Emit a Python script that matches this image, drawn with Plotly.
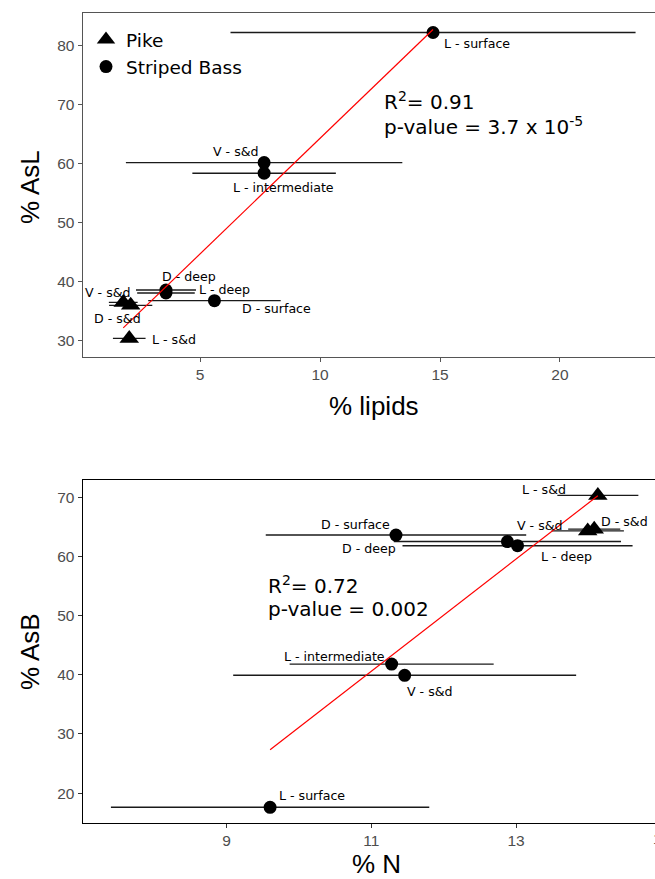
import numpy as np
import plotly.graph_objects as go

# ---------------- data: top panel (% lipids vs % AsL) ----------------
top_labels = ["L - surface", "V - s&d", "L - intermediate", "D - deep", "L - deep",
              "D - surface", "V - s&d", "D - s&d", "L - s&d"]
top_species = ["Striped Bass"] * 6 + ["Pike"] * 3
lipids = [14.71, 7.67, 7.67, 3.58, 3.58, 5.60, 1.80, 2.11, 2.05]
lipids_err = [8.44, 5.76, 2.99, 1.25, 1.20, 2.76, 0.60, 0.90, 0.68]
asl = [82.15, 60.1, 58.3, 38.5, 38.0, 36.7, 36.4, 35.9, 30.3]
top_stats = ["R<sup>2</sup>= 0.91", "p-value = 3.7 x 10<sup>-5</sup>"]

# ---------------- data: bottom panel (% N vs % AsB) ----------------
bot_labels = ["L - s&d", "V - s&d", "D - s&d", "D - surface", "D - deep", "L - deep",
              "L - intermediate", "V - s&d", "L - surface"]
bot_species = ["Pike"] * 3 + ["Striped Bass"] * 6
nitrogen = [14.13, 13.99, 14.08, 11.34, 12.88, 13.02, 11.28, 11.46, 9.60]
nitrogen_err = [0.56, 0.50, 0.36, 1.80, 1.57, 1.59, 1.41, 2.37, 2.20]
asb = [70.3, 64.3, 64.6, 63.6, 62.5, 61.8, 41.8, 39.9, 17.6]
bot_stats = ["R<sup>2</sup>= 0.72", "p-value = 0.002"]

species_order = ["Pike", "Striped Bass"]
top_xticks = [5, 10, 15, 20]
top_yticks = [30, 40, 50, 60, 70, 80]
bot_xticks = [9, 11, 13]
bot_yticks = [20, 30, 40, 50, 60, 70]
bot_clipped_tick = "15"

# ---------------- styling / positions (pixels) ----------------
W, H = 655, 879
symbols = {"Pike": "triangle-up", "Striped Bass": "circle"}
sizes = {"Pike": 17, "Striped Bass": 13}
top_offsets = [(44, 11), (-28, -11), (19, 14), (23, -14), (59, -3),
               (62, 8), (-15, -10), (-13, 13), (45, 1)]
bot_offsets = [(-54, -6), (-48, -5), (30, -8), (-40, -11), (-138, 7),
               (49, 11), (-57, -8), (25, 16), (42, -12)]

LABEL_FONT = dict(family="DejaVu Sans", size=12.6, color="black")
TICK_FONT = dict(family="Liberation Sans", size=15.5, color="#4d4d4d")
TITLE_FONT = dict(family="Liberation Sans", size=26, color="black")
STAT_FONT = dict(family="DejaVu Sans", size=20, color="black")

fig = go.Figure()


def add_panel(xs, xerr, ys, species, labels, offsets, xa, ya, legend):
    xs = np.asarray(xs, float)
    ys = np.asarray(ys, float)
    xerr = np.asarray(xerr, float)
    sp = np.asarray(species)
    for s in species_order:
        m = sp == s
        fig.add_trace(go.Scatter(
            x=xs[m], y=ys[m], mode="markers", name=s,
            xaxis=xa, yaxis=ya, showlegend=legend,
            marker=dict(symbol=symbols[s], size=sizes[s], color="black"),
            error_x=dict(type="data", array=xerr[m], symmetric=True,
                         width=0, thickness=1.4, color="#1a1a1a"),
        ))
    # linear fit (computed from the data)
    slope, icpt = np.polyfit(xs, ys, 1)
    fx = np.array([xs.min(), xs.max()])
    fig.add_trace(go.Scatter(
        x=fx, y=slope * fx + icpt, mode="lines", showlegend=False,
        xaxis=xa, yaxis=ya, line=dict(color="red", width=1.2),
        hoverinfo="skip"))
    for x, y, t, (dx, dy) in zip(xs, ys, labels, offsets):
        fig.add_annotation(x=x, y=y, xref=xa, yref=ya, text=t, showarrow=False,
                           xshift=dx, yshift=-dy, font=LABEL_FONT)


add_panel(lipids, lipids_err, asl, top_species, top_labels, top_offsets, "x", "y", True)
add_panel(nitrogen, nitrogen_err, asb, bot_species, bot_labels, bot_offsets, "x2", "y2", False)

xdom = [82.7 / W, 1.0]
top_dom = [1 - 356.7 / H, 1 - 13.3 / H]
bot_dom = [1 - 822.7 / H, 1 - 480.0 / H]

axis_common = dict(showgrid=False, zeroline=False, ticks="outside", ticklen=4,
                   tickwidth=1, tickfont=TICK_FONT, showline=True, linewidth=1.3)

fig.update_layout(
    width=W, height=H, margin=dict(l=0, r=0, t=0, b=0),
    paper_bgcolor="white", plot_bgcolor="white",
    xaxis=dict(domain=xdom, range=[0.11, 23.96], tickvals=top_xticks, anchor="y",
               linecolor="#555555", tickcolor="#555555", mirror=True, **axis_common),
    yaxis=dict(domain=top_dom, range=[27.2, 85.4], tickvals=top_yticks, anchor="x",
               linecolor="#555555", tickcolor="#555555", **axis_common),
    xaxis2=dict(domain=xdom, range=[7.01, 14.92], tickvals=bot_xticks, anchor="y2",
                linecolor="black", tickcolor="#333333", mirror=True, **axis_common),
    yaxis2=dict(domain=bot_dom, range=[15.0, 72.9], tickvals=bot_yticks, anchor="x2",
                linecolor="black", tickcolor="#333333", **axis_common),
    legend=dict(x=86 / W, y=1 - 21 / H, xanchor="left", yanchor="top",
                bgcolor="rgba(0,0,0,0)", font=dict(family="DejaVu Sans", size=18.5, color="black"),
                itemsizing="trace", tracegroupgap=0),
    showlegend=True,
)

# partially visible "15" tick label at the right edge of the lower panel
fig.add_annotation(x=661 / W, y=1 - 838 / H, xref="paper", yref="paper", text=bot_clipped_tick,
                   showarrow=False, xanchor="center", yanchor="middle", font=TICK_FONT)

# stats text
for i, t in enumerate(top_stats):
    fig.add_annotation(x=382 / W, y=1 - (101 + 25 * i) / H, xref="paper", yref="paper",
                       text=t, showarrow=False, xanchor="left", yanchor="middle", font=STAT_FONT)
for i, t in enumerate(bot_stats):
    fig.add_annotation(x=266 / W, y=1 - (585 + 24 * i) / H, xref="paper", yref="paper",
                       text=t, showarrow=False, xanchor="left", yanchor="middle", font=STAT_FONT)

# axis titles
fig.add_annotation(x=374 / W, y=1 - 406 / H, xref="paper", yref="paper", text="% lipids",
                   showarrow=False, xanchor="center", yanchor="middle", font=TITLE_FONT)
fig.add_annotation(x=30 / W, y=1 - 187 / H, xref="paper", yref="paper", text="% AsL",
                   showarrow=False, textangle=-90, xanchor="center", yanchor="middle", font=TITLE_FONT)
fig.add_annotation(x=376 / W, y=1 - 864 / H, xref="paper", yref="paper", text="% N",
                   showarrow=False, xanchor="center", yanchor="middle", font=TITLE_FONT)
fig.add_annotation(x=30 / W, y=1 - 652 / H, xref="paper", yref="paper", text="% AsB",
                   showarrow=False, textangle=-90, xanchor="center", yanchor="middle", font=TITLE_FONT)

fig.write_html("out.html")
